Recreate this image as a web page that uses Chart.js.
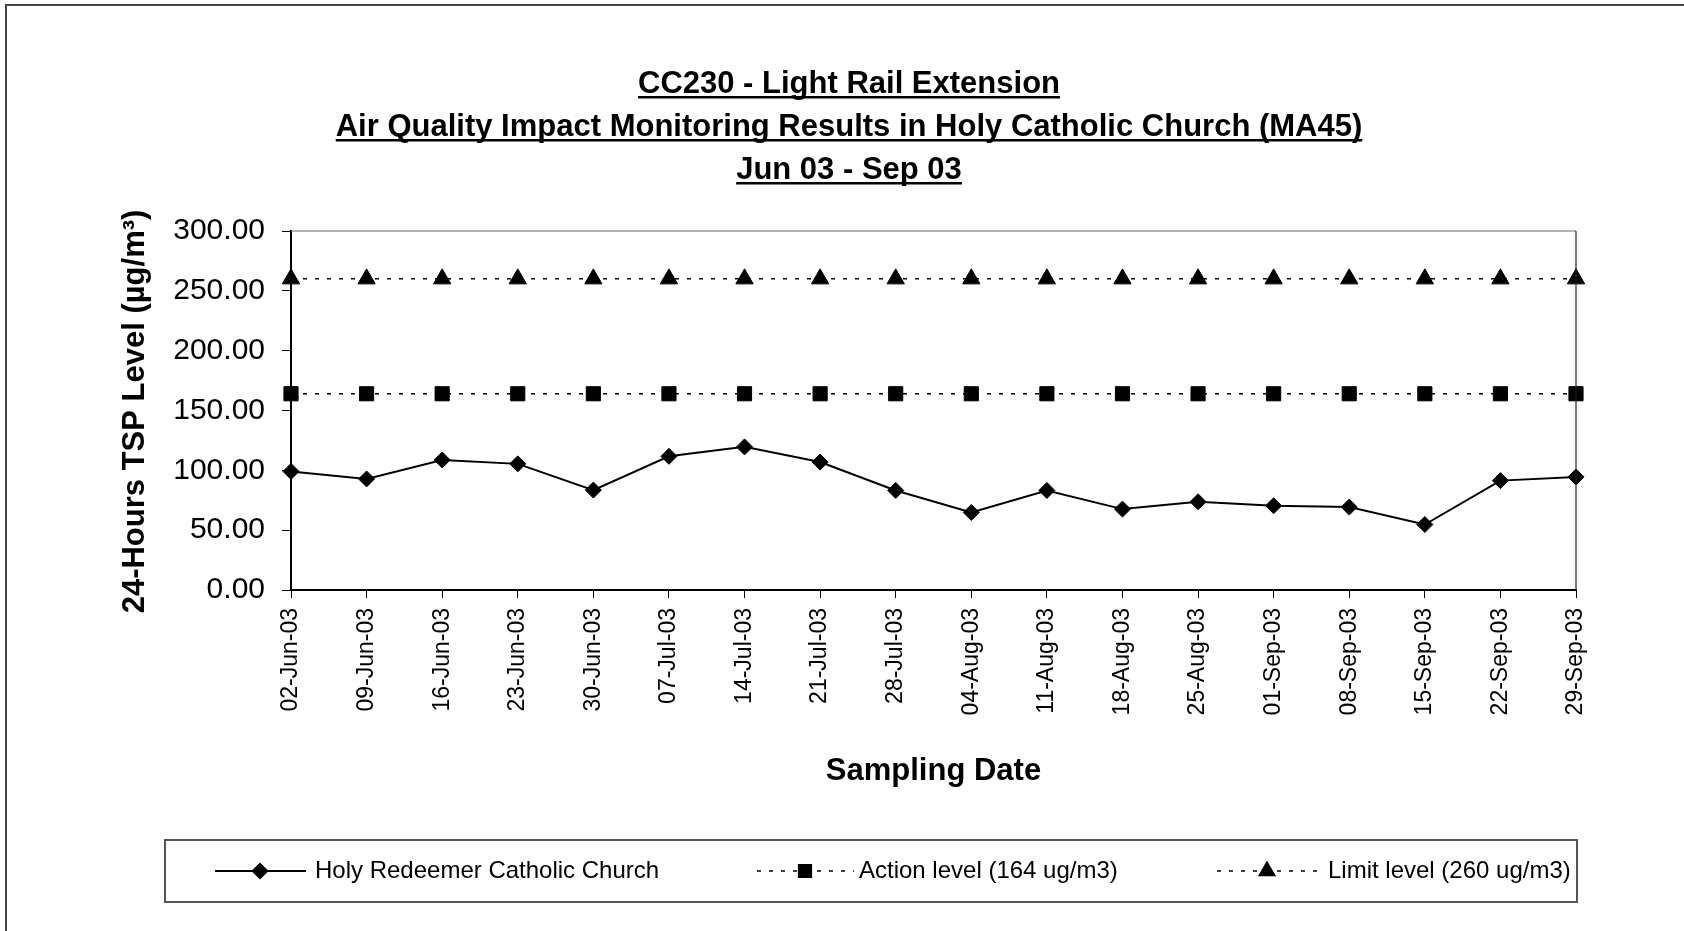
<!DOCTYPE html>
<html><head><meta charset="utf-8">
<script src="https://cdn.jsdelivr.net/npm/chart.js@4/dist/chart.umd.min.js"></script>
<style>html,body{margin:0;padding:0;background:#fff;overflow:hidden}</style>
</head><body>
<canvas id="c" width="1684" height="931"></canvas>
<script>
const categories = ['02-Jun-03','09-Jun-03','16-Jun-03','23-Jun-03','30-Jun-03','07-Jul-03','14-Jul-03','21-Jul-03','28-Jul-03','04-Aug-03','11-Aug-03','18-Aug-03','25-Aug-03','01-Sep-03','08-Sep-03','15-Sep-03','22-Sep-03','29-Sep-03'];
const tspValues = [99.1, 92.8, 108.7, 105.4, 83.5, 111.7, 119.6, 106.9, 83.2, 64.8, 83.2, 67.6, 73.7, 70.4, 69.3, 54.7, 91.4, 94.5];
const actionLevel = [164,164,164,164,164,164,164,164,164,164,164,164,164,164,164,164,164,164];
const limitLevel = [260,260,260,260,260,260,260,260,260,260,260,260,260,260,260,260,260,260];
const seriesNames = ['Holy Redeemer Catholic Church','Action level (164 ug/m3)','Limit level (260 ug/m3)'];
const titleLines = ['CC230 - Light Rail Extension','Air Quality Impact Monitoring Results in Holy Catholic Church (MA45)','Jun 03 - Sep 03'];
const xTitle = 'Sampling Date';
const yTitle = '24-Hours TSP Level (\u00B5g/m\u00B3)';
const yMin = 0, yMax = 300, yStep = 50;

const FONT = '"Liberation Sans", Arial, Helvetica, sans-serif';
const PLOT = {left: 291, right: 1576, top: 231, bottom: 590};

const decorPlugin = {
  id: 'decor',
  beforeDraw(chart) {
    const ctx = chart.ctx;
    ctx.save();
    ctx.fillStyle = '#fff';
    ctx.fillRect(0, 0, chart.width, chart.height);
    ctx.strokeStyle = '#444';
    ctx.lineWidth = 2;
    ctx.strokeRect(6, 5, 1700, 1000);
    ctx.restore();
  },
  afterDraw(chart) {
    const ctx = chart.ctx;
    const ca = chart.chartArea;
    ctx.save();
    // top & right border of plot area
    ctx.lineWidth = 1.2;
    ctx.strokeStyle = '#666';
    ctx.beginPath();
    ctx.moveTo(ca.left, ca.top); ctx.lineTo(ca.right, ca.top);
    ctx.stroke();
    ctx.strokeStyle = '#222';
    ctx.beginPath();
    ctx.moveTo(ca.right, ca.top); ctx.lineTo(ca.right, ca.bottom);
    ctx.stroke();

    // titles
    ctx.fillStyle = '#000';
    ctx.textAlign = 'center';
    ctx.textBaseline = 'alphabetic';
    ctx.font = 'bold 31px ' + FONT;
    const ys = [93, 136, 179];
    titleLines.forEach((t, i) => {
      ctx.fillText(t, 849, ys[i]);
      const w = ctx.measureText(t).width;
      ctx.fillRect(849 - w / 2, ys[i] + 3, w, 2.5);
    });

    // axis titles
    ctx.textBaseline = 'middle';
    ctx.fillText(xTitle, (ca.left + ca.right) / 2, 771);
    ctx.save();
    ctx.translate(135, (ca.top + ca.bottom) / 2 + 1);
    ctx.rotate(-Math.PI / 2);
    ctx.fillText(yTitle, 0, 0);
    ctx.restore();

    // legend
    ctx.strokeStyle = '#555';
    ctx.lineWidth = 2;
    ctx.strokeRect(165, 840, 1412, 62);
    const items = [
      {x1: 215, x2: 306, mx: 260, tx: 315},
      {x1: 757, x2: 854, mx: 805, tx: 859},
      {x1: 1217, x2: 1321, mx: 1267, tx: 1328}
    ];
    const ly = 871;
    chart.data.datasets.forEach((ds, i) => {
      const it = items[i];
      ctx.save();
      ctx.strokeStyle = ds.borderColor;
      ctx.lineWidth = ds.borderWidth;
      ctx.setLineDash(ds.borderDash || []);
      ctx.beginPath(); ctx.moveTo(it.x1, ly); ctx.lineTo(it.x2, ly); ctx.stroke();
      ctx.setLineDash([]);
      ctx.fillStyle = ds.pointBackgroundColor;
      ctx.strokeStyle = ds.pointBorderColor;
      Chart.helpers.drawPoint(ctx, {pointStyle: ds.pointStyle, radius: ds.pointRadius * 0.9, rotation: 0, borderWidth: 1}, it.mx, ly);
      ctx.restore();
      ctx.fillStyle = '#000';
      ctx.font = '24px ' + FONT;
      ctx.textAlign = 'left';
      ctx.textBaseline = 'middle';
      ctx.fillText(ds.label, it.tx, ly);
    });
    ctx.restore();
  }
};

new Chart(document.getElementById('c'), {
  type: 'line',
  data: {
    labels: categories,
    datasets: [
      {label: seriesNames[0], data: tspValues, borderColor: '#000', borderWidth: 2, pointStyle: 'rectRot', pointRadius: 8, pointBackgroundColor: '#000', pointBorderColor: '#000', pointBorderWidth: 1, tension: 0, order: 0},
      {label: seriesNames[1], data: actionLevel, borderColor: '#000', borderWidth: 1.5, borderDash: [4, 8], pointStyle: 'rect', pointRadius: 10, pointBackgroundColor: '#000', pointBorderColor: '#000', pointBorderWidth: 1, order: 1},
      {label: seriesNames[2], data: limitLevel, borderColor: '#000', borderWidth: 1.5, borderDash: [4, 8], pointStyle: 'triangle', pointRadius: 10, pointBackgroundColor: '#000', pointBorderColor: '#000', pointBorderWidth: 1, order: 2}
    ]
  },
  options: {
    responsive: false,
    animation: false,
    devicePixelRatio: 1,
    layout: {padding: {left: 0, right: 1684 - PLOT.right, top: PLOT.top, bottom: 0}},
    plugins: {legend: {display: false}, title: {display: false}, tooltip: {enabled: false}},
    scales: {
      x: {
        type: 'category',
        offset: false,
        afterFit(scale) { scale.height = 931 - PLOT.bottom; },
        grid: {display: true, drawOnChartArea: false, drawTicks: true, tickLength: 8, color: '#000', lineWidth: 1},
        border: {display: true, color: '#000', width: 2},
        ticks: {autoSkip: false, maxRotation: 90, minRotation: 90, padding: 10, color: '#000', font: {family: FONT, size: 23}}
      },
      y: {
        min: yMin, max: yMax,
        afterFit(scale) { scale.width = PLOT.left; },
        grid: {display: true, drawOnChartArea: false, drawTicks: true, tickLength: 9, color: '#000', lineWidth: 1},
        border: {display: true, color: '#000', width: 2},
        ticks: {stepSize: yStep, padding: 17, color: '#000', font: {family: FONT, size: 30}, callback: v => Number(v).toFixed(2)}
      }
    }
  },
  plugins: [decorPlugin]
});
</script>
</body></html>
